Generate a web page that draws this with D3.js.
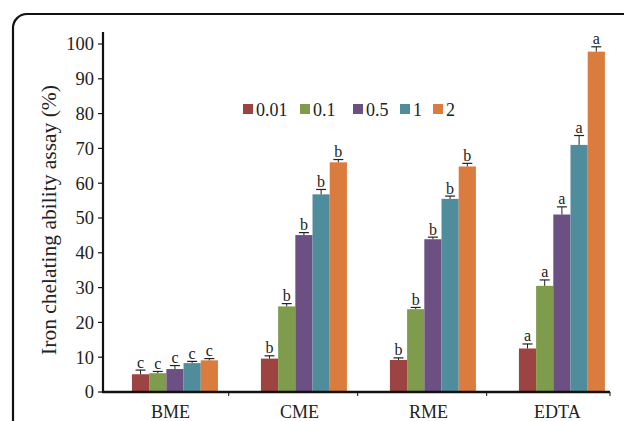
<!DOCTYPE html>
<html><head><meta charset="utf-8">
<script src="https://cdn.jsdelivr.net/npm/d3@7"></script>
<style>body{margin:0;background:#fff}svg{display:block}</style>
</head><body><svg id="c" width="624" height="421" font-family="Liberation Serif, Times New Roman, serif"></svg>
<script>
const categories = ["BME","CME","RME","EDTA"];
const seriesNames = ["0.01","0.1","0.5","1","2"];
const colors = ["#9D4442","#7E9C4B","#6D5083","#4F8C9C","#DA7C3E"];
const values = {
  "0.01": [5.1, 9.6, 9.2, 12.5],
  "0.1":  [5.4, 24.6, 23.8, 30.5],
  "0.5":  [6.6, 45.1, 43.9, 51.0],
  "1":    [8.3, 56.8, 55.5, 71.0],
  "2":    [9.1, 66.0, 64.8, 97.8]
};
const errors = {
  "0.01": [1.2, 0.8, 0.6, 1.3],
  "0.1":  [0.5, 0.8, 0.5, 1.7],
  "0.5":  [1.0, 0.7, 0.6, 2.2],
  "1":    [0.5, 1.4, 0.8, 2.7],
  "2":    [0.5, 0.8, 0.9, 1.4]
};
const letters = {
  "0.01": ["c","b","b","a"],
  "0.1":  ["c","b","b","a"],
  "0.5":  ["c","b","b","a"],
  "1":    ["c","b","b","a"],
  "2":    ["c","b","b","a"]
};
const yTicks = [0,10,20,30,40,50,60,70,80,90,100];
const yLabel = "Iron chelating ability assay (%)";
const FONT = "Liberation Serif";

const svg = d3.select("#c");
// frame
svg.append("rect").attr("x",13).attr("y",14).attr("width",640).attr("height",440)
  .attr("rx",14).attr("fill","none").attr("stroke","#111").attr("stroke-width",2.2);

const x0 = 103, x1 = 610, yBase = 392, yTop = 44;
const x = d3.scaleBand().domain(categories).range([x0, x1]).paddingInner(1/3).paddingOuter(0.132).align(0.85);
const xs = d3.scaleBand().domain(seriesNames).range([0, x.bandwidth()]);
const y = d3.scaleLinear().domain([0,100]).range([yBase, yTop]);

// bars
seriesNames.forEach((s, si) => {
  const g = svg.append("g");
  categories.forEach((c, ci) => {
    const v = values[s][ci], e = errors[s][ci];
    const bx = x(c) + xs(s), bw = xs.bandwidth();
    g.append("rect").attr("x", bx).attr("y", y(v)).attr("width", bw).attr("height", y(0) - y(v))
      .attr("fill", colors[si]);
    const cx = bx + bw/2;
    g.append("line").attr("x1",cx).attr("x2",cx).attr("y1",y(v)).attr("y2",y(v+e)).attr("stroke","#222").attr("stroke-width",1);
    g.append("line").attr("x1",cx-5).attr("x2",cx+5).attr("y1",y(v+e)).attr("y2",y(v+e)).attr("stroke","#222").attr("stroke-width",1.2);
    g.append("text").attr("x",cx).attr("y",y(v+e)-2.5).attr("text-anchor","middle")
      .attr("font-family",FONT).attr("fill","#222").attr("font-size",16).text(letters[s][ci]);
  });
});

// y axis
svg.append("line").attr("x1",x0).attr("x2",x0).attr("y1",32).attr("y2",yBase+1).attr("stroke","#111").attr("stroke-width",2.2);
const yt = svg.append("g");
yTicks.forEach(t => {
  yt.append("line").attr("x1",x0-5).attr("x2",x0).attr("y1",y(t)).attr("y2",y(t)).attr("stroke","#111").attr("stroke-width",1.2);
  yt.append("text").attr("x",x0-9).attr("y",y(t)).attr("dy","0.35em").attr("text-anchor","end")
    .attr("font-family",FONT).attr("fill","#222").attr("font-size",18.5).text(t);
});
// x axis
svg.append("line").attr("x1",x0-1).attr("x2",x1).attr("y1",yBase).attr("y2",yBase).attr("stroke","#111").attr("stroke-width",2.6);
categories.forEach((c, i) => {
  if (i > 0) {
    const tx = x(c) - x.step()*0.25;
    svg.append("line").attr("x1",tx).attr("x2",tx).attr("y1",yBase).attr("y2",yBase+4).attr("stroke","#111").attr("stroke-width",1);
  }
  svg.append("text").attr("x", x(c) + x.bandwidth()/2 - 4.5).attr("y", 418).attr("text-anchor","middle")
    .attr("font-family",FONT).attr("fill","#222").attr("font-size",18).text(c);
});
svg.append("line").attr("x1",x1).attr("x2",x1).attr("y1",yBase).attr("y2",yBase+4).attr("stroke","#111").attr("stroke-width",1);

// y label
svg.append("text").attr("transform","translate(56,220) rotate(-90)").attr("text-anchor","middle")
  .attr("font-family",FONT).attr("fill","#222").attr("font-size",21.5).text(yLabel);

// legend
const legX = [243, 300, 353, 400, 433];
const lg = svg.append("g");
seriesNames.forEach((s, i) => {
  lg.append("rect").attr("x", legX[i]).attr("y", 104).attr("width", 10).attr("height", 10).attr("fill", colors[i]);
  lg.append("text").attr("x", legX[i] + 13).attr("y", 115.5).attr("font-family",FONT).attr("fill","#222")
    .attr("font-size",18).text(s);
});
</script></body></html>
